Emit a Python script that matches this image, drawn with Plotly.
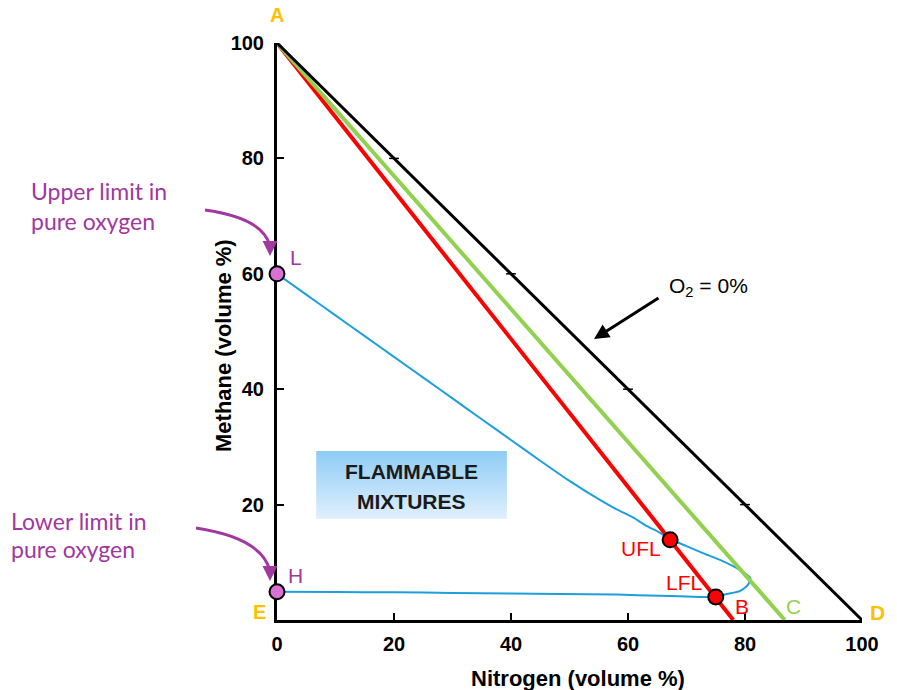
import plotly.graph_objects as go

# ---------------- data ----------------
x_tick_vals = [0, 20, 40, 60, 80, 100]
x_tick_labels = ["0", "20", "40", "60", "80", "100"]
y_tick_vals = [20, 40, 60, 80, 100]
y_tick_labels = ["20", "40", "60", "80", "100"]
inner_ticks = [20, 40, 60, 80]

# O2 = 0% line (A -> D)
o2zero_x = [0, 100]
o2zero_y = [100, 0]
# air line (A -> B) and stoichiometric line (A -> C)
red_x = [0, 78]
red_y = [100, 0]
green_x = [0, 86.8]
green_y = [100, 0]

# flammability envelope (L ... UFL ... nose ... LFL ... H)
env_x = [0, 5, 10, 15, 20, 25, 30, 35, 40, 45, 50, 55.2, 58, 61, 63, 65.5, 67.2,
         70, 72.8, 76, 79.1, 80.9, 80.5, 79.1, 76.9, 75, 72.3, 65.5, 58, 48.4,
         40, 30, 20, 10, 0]
env_y = [60, 56.4, 52.8, 49.2, 45.6, 42.0, 38.4, 34.8, 31.2, 27.6, 24.1, 20.8, 19.2,
         17.7, 16.4, 15.1, 14.0, 12.8, 11.6, 10.3, 8.7, 7.3, 6.1, 5.0, 4.5, 4.0,
         4.0, 4.2, 4.4, 4.5, 4.6, 4.7, 4.8, 4.85, 4.9]

pt_L = (0, 60)
pt_H = (0, 4.9)
pt_UFL = (67.2, 13.9)
pt_LFL = (75, 4.0)

# ---------------- styling ----------------
W, H = 897, 690
L_PX, R_PX, T_PX, B_PX = 277, 862, 43, 620
ORANGE = "#FFC000"
PURPLE = "#A0389F"
PINK = "#DA70D6"
RED = "#FF0000"
GREEN = "#92D050"
BLUE = "#1E9FDC"
NUM_FONT = "Liberation Sans"


def pxx(px):
    return (px - L_PX) / (R_PX - L_PX)


def pxy(py):
    return (B_PX - py) / (B_PX - T_PX)


fig = go.Figure()

# flammable mixtures box (gradient)
box_x = [6.7, 39.3, 39.3, 6.7, 6.7]
box_y = [17.5, 17.5, 29.3, 29.3, 17.5]
fig.add_trace(go.Scatter(
    x=box_x, y=box_y, mode="lines", fill="toself", line=dict(width=0),
    fillgradient=dict(type="vertical",
                      colorscale=[[0, "#E0F0FD"], [1, "#8ECCF6"]]),
    hoverinfo="skip", showlegend=False))

fig.add_trace(go.Scatter(x=env_x, y=env_y, mode="lines",
                         line=dict(color=BLUE, width=2, shape="spline", smoothing=0.6),
                         cliponaxis=False, showlegend=False))
fig.add_trace(go.Scatter(x=red_x, y=red_y, mode="lines",
                         line=dict(color=RED, width=4), cliponaxis=False, showlegend=False))
fig.add_trace(go.Scatter(x=green_x, y=green_y, mode="lines",
                         line=dict(color=GREEN, width=4), cliponaxis=False, showlegend=False))
fig.add_trace(go.Scatter(x=o2zero_x, y=o2zero_y, mode="lines",
                         line=dict(color="black", width=3), cliponaxis=False, showlegend=False))
# small ticks on the O2 = 0% line
fig.add_trace(go.Scatter(x=inner_ticks, y=[100 - v for v in inner_ticks], mode="markers",
                         marker=dict(symbol="line-ew", size=7,
                                     line=dict(color="black", width=1.5)),
                         cliponaxis=False, showlegend=False))

# points
fig.add_trace(go.Scatter(x=[pt_L[0], pt_H[0]], y=[pt_L[1], pt_H[1]], mode="markers",
                         marker=dict(color=PINK, size=15, line=dict(color="black", width=2)),
                         cliponaxis=False, showlegend=False))
fig.add_trace(go.Scatter(x=[pt_UFL[0], pt_LFL[0]], y=[pt_UFL[1], pt_LFL[1]], mode="markers",
                         marker=dict(color=RED, size=15, line=dict(color="black", width=2)),
                         cliponaxis=False, showlegend=False))

ann = []


def label(x, y, text, color, dx, dy, size=21, bold=False, family="Liberation Sans"):
    ann.append(dict(x=x, y=y, xref="x", yref="y", text=f"<b>{text}</b>" if bold else text,
                    showarrow=False, xshift=dx, yshift=dy, xanchor="center", yanchor="middle",
                    font=dict(color=color, size=size, family=family)))


label(0, 100, "A", ORANGE, 0, 28, 20, True)
label(0, 0, "E", ORANGE, -18, 8, 20, True)
label(100, 0, "D", ORANGE, 15, 8, 21, True)
label(red_x[1], 0, "B", RED, 9, 14)
label(green_x[1], 0, "C", GREEN, 9, 14)
label(pt_L[0], pt_L[1], "L", PURPLE, 19, 16)
label(pt_H[0], pt_H[1], "H", PURPLE, 18, 16)
label(pt_UFL[0], pt_UFL[1], "UFL", RED, -29, -9)
label(pt_LFL[0], pt_LFL[1], "LFL", RED, -32, 14)

# axis titles
ann.append(dict(x=pxx(223), y=pxy(346), xref="paper", yref="paper", xanchor="center",
                yanchor="middle", textangle=-90, text="<b>Methane (volume %)</b>",
                showarrow=False, font=dict(size=22, color="black", family=NUM_FONT)))
ann.append(dict(x=pxx(578), y=pxy(678), xref="paper", yref="paper", xanchor="center",
                yanchor="middle", text="<b>Nitrogen (volume %)</b>",
                showarrow=False, font=dict(size=22, color="black", family=NUM_FONT)))

# box text
ann.append(dict(x=pxx(411), y=pxy(472), xref="paper", yref="paper", xanchor="center",
                yanchor="middle", text="<b>FLAMMABLE</b>", showarrow=False,
                font=dict(size=21, color="#1A1A1A", family="Liberation Sans")))
ann.append(dict(x=pxx(411), y=pxy(501), xref="paper", yref="paper", xanchor="center",
                yanchor="middle", text="<b>MIXTURES</b>", showarrow=False,
                font=dict(size=21, color="#1A1A1A", family="Liberation Sans")))

# O2 = 0% label + arrow
ann.append(dict(x=pxx(667), y=pxy(287), xref="paper", yref="paper", xanchor="left",
                yanchor="middle", text="O<sub>2</sub> = 0%", showarrow=False,
                font=dict(size=21, color="black", family="Liberation Sans")))
ann.append(dict(x=pxx(594), y=pxy(339), xref="paper", yref="paper",
                ax=66, ay=-42,
                text="", showarrow=True, arrowhead=2, arrowsize=1, arrowwidth=3,
                arrowcolor="black", standoff=0))

# side notes
for txt, lx, cy in [("Upper limit in", 29, 191), ("pure oxygen", 29, 221),
                    ("Lower limit in", 9, 521), ("pure oxygen", 9, 549)]:
    ann.append(dict(x=pxx(lx), y=pxy(cy), xref="paper", yref="paper", xanchor="left",
                    yanchor="middle", text=txt, showarrow=False,
                    font=dict(size=23, color=PURPLE, family="Lato")))

# arrow heads for curved arrows
for tx, ty in [(270, 256), (270, 581)]:
    ann.append(dict(x=pxx(tx), y=pxy(ty), xref="paper", yref="paper", ax=0, ay=-12,
                    text="", showarrow=True, arrowhead=2, arrowsize=1, arrowwidth=3,
                    arrowcolor=PURPLE, standoff=0))

shapes = []
for (sx, sy), (cx, cy), (ex, ey) in [((205, 210), (263, 218), (270, 246)),
                                     ((196, 528), (262, 538), (270, 571))]:
    shapes.append(dict(type="path", xref="paper", yref="paper",
                       path=f"M {pxx(sx)},{pxy(sy)} Q {pxx(cx)},{pxy(cy)} {pxx(ex)},{pxy(ey)}",
                       line=dict(color=PURPLE, width=3)))

axis_common = dict(range=[0, 100], tickmode="array",
                   ticks="", showgrid=False, zeroline=False, showline=True,
                   linecolor="black", linewidth=3, layer="below traces",
                   tickfont=dict(size=20, color="black", family=NUM_FONT, weight="bold"),
                   minor=dict(tickmode="array", tickvals=inner_ticks, ticks="inside",
                              ticklen=7, tickwidth=2, tickcolor="black"),
                   fixedrange=True)

fig.update_layout(
    width=W, height=H,
    margin=dict(l=L_PX, r=W - R_PX, t=T_PX, b=H - B_PX, autoexpand=False),
    plot_bgcolor="white", paper_bgcolor="white",
    xaxis=dict(**axis_common, tickvals=x_tick_vals, ticktext=x_tick_labels,
               ticklabelstandoff=4),
    yaxis=dict(**axis_common, tickvals=y_tick_vals, ticktext=y_tick_labels,
               ticklabelstandoff=6),
    annotations=ann, shapes=shapes, showlegend=False,
)

fig.write_html("out.html")
